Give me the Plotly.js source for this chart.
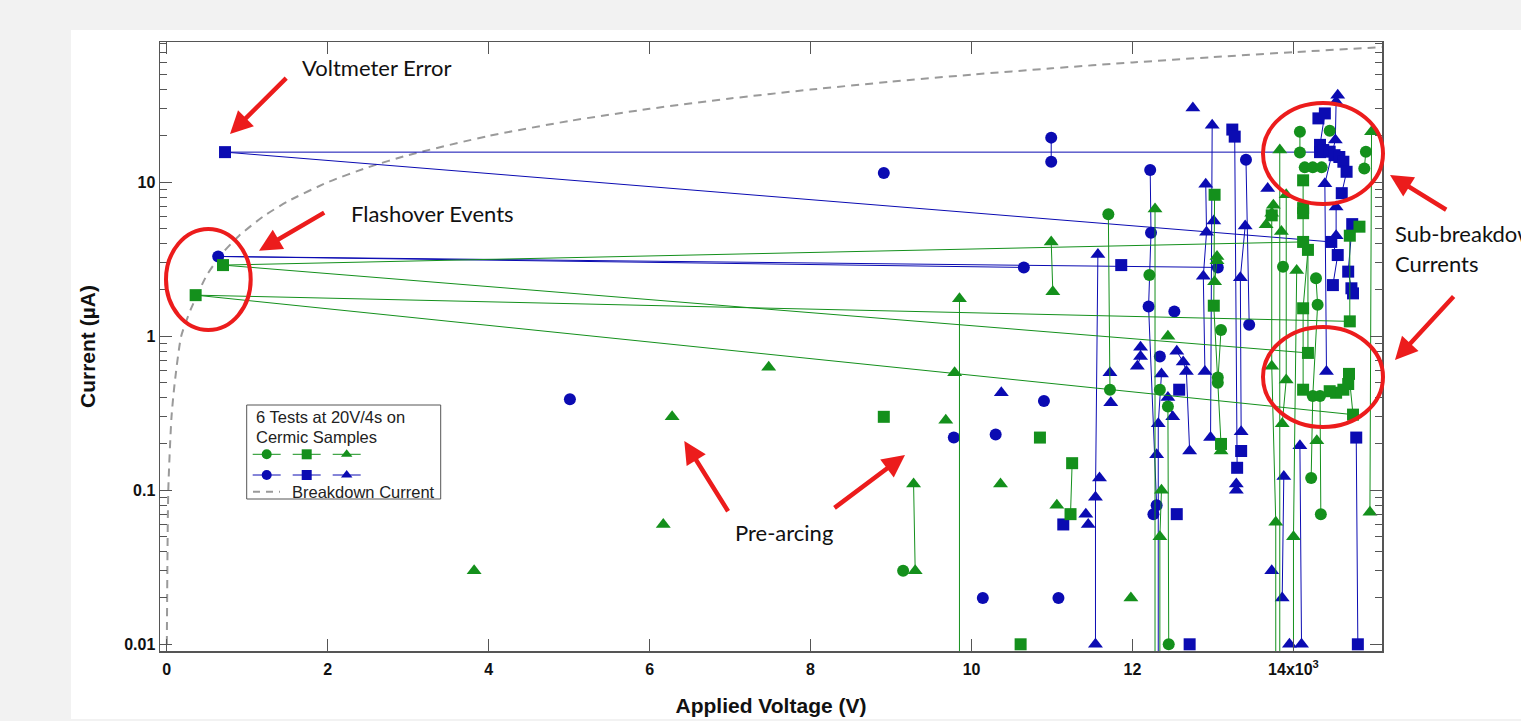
<!DOCTYPE html>
<html><head><meta charset="utf-8">
<script src="https://cdn.plot.ly/plotly-3.0.1.min.js"></script>
<style>html,body{margin:0;padding:0;background:#f2f2f2;}#chart{width:1521px;height:721px;}</style>
</head><body><div id="chart"></div>
<script>
// ---- data (Applied voltage in V, current in µA); each inner list is one connected run ----
const greenCircleV = [[9150],[11700,11720],[12210],[12340],[12440,12450],[13100,13060,13060],[13870],[14080,14080],[14450],[14140,14240,14350],[14900,14880],[14280,14300,14240,14220],[14330,14340]];
const greenCircleI = [[0.03],[6.2,0.45],[2.5],[0.45],[0.35,0.01],[1.1,0.54,0.50],[2.83],[21.3,15.6],[21.6],[12.5,12.5,12.5],[15.8,12.3],[2.38,1.6,0.41,0.12],[0.41,0.07]];

const greenSquareV = [[8910],[10610],[10850],[11250,11230],[13020,13010,13100],[13730],[14120,14120,14120,14120,700,14180,14180,14120,14120],[14820,14700,14700,360,14740,14690,14680,14620,14530,14450]];
const greenSquareI = [[0.3],[0.01],[0.22],[0.15,0.07],[8.3,1.58,0.2],[6.1],[10.3,6.8,6.3,4.1,2.9,0.78,3.64,1.52,0.45],[5.15,4.5,1.25,1.85,0.31,0.57,0.49,0.45,0.43,0.44]];

const greenTriangleV = [[3820],[6170],[6280],[7480],[9680],[9790],[10360],[11060],[11980],[12440],[9280,9300],[9850,9850],[10990,11010],[12280,12280],[12360,12340,12340],[13050,13050,13020],[13100],[13830,13830],[13910,13910,13860],[13750,13730,13730,13780,13780],[13660],[13850],[14040,14000,14000],[14290],[14970,14950]];
const greenTriangleI = [[0.03],[0.06],[0.3],[0.63],[0.285],[0.58],[0.11],[0.08],[0.02],[1.0],[0.11,0.03],[1.75,0.001],[4.1,1.95],[6.7,0.001],[0.1,0.05,0.001],[3.3,3.1,2.26],[0.18],[16.2,0.001],[8.3,0.52,0.27],[7.1,6.3,0.64,0.062,0.001],[5.3],[4.8],[2.67,0.05,0.001],[0.21],[21.3,0.072]];

const blueCircleV = [[5010],[8910],[9780],[10300],[10140],[11080],[10900],[12520],[12340],[10990,10990],[12220,12230,12200,12300,12260],[13410,13450],[10650,640,13060]];
const blueCircleI = [[0.39],[11.5],[0.22],[0.23],[0.02],[0.02],[0.38],[1.45],[0.74],[19.5,13.6],[12,4.7,1.56,0.08,0.07],[14,1.19],[2.8,3.3,2.8]];

const blueSquareV = [[11140],[11860],[12550],[12580],[12710],[13240,13270,13300],[13350],[14310,14390,14330,14330,725,14470,14550,14490],[14370,14450,14510,14570,14620,14660,14600],[14730,14680,14720,14740],[14780,14800]];
const blueSquareI = [[0.06],[2.9],[0.07],[0.45],[0.01],[22,19.8,0.14],[0.18],[26,28,17.5,15.7,15.7,4.1,3.37,2.15],[16.2,15.8,15,14.6,13.6,11.7,8.5],[5.35,2.63,2.05,1.9],[0.22,0.01]];

const blueTriangleV = [[10370],[11420],[11450],[11590],[12750],[13680],[12300],[11720],[11730],[11570,11540,11540],[12100,12100,12060],[12360,12320,12320],[12550,12630,12670,12710],[12440,12500],[12990,12970],[12910,12920,12880,12900],[13010],[13400,13340,13350],[13290,13290],[14550,14530,14520,14390,14410],[14530,14530],[14080,14100],[13880,13860],[13730],[13950]];
const blueTriangleI = [[0.43],[0.07],[0.06],[0.12],[30.4],[9.1],[0.17],[0.58],[0.37],[3.4,0.09,0.01],[0.85,0.74,0.64],[0.57,0.27,0.001],[0.80,0.68,0.59,0.18],[0.40,0.30],[23.5,0.22],[9.7,4.74,2.45,0.59],[5.6],[5.2,2.4,0.24],[0.11,0.10],[36.8,33.3,18.8,9.8,0.59],[6.9,4.5],[0.195,0.01],[0.123,0.02],[0.03],[0.01]];

const breakdownV = [2, 20, 60, 100, 180, 300, 500, 700, 900, 1200, 1500, 2000, 2500, 3000, 4000, 5000, 6000, 7000, 8000, 9000, 10000, 11000, 12000, 13000, 14000, 15100];
const breakdownI = [0.01, 0.1, 0.3, 0.5, 1, 1.5, 2.5, 3.5, 4.5, 6, 7.5, 10, 12.5, 15, 20, 25, 30, 35, 40, 45, 50, 55, 60, 65, 70, 75.5];

const xTickVals = [0, 2000, 4000, 6000, 8000, 10000, 12000, 14000];
const xTickText = ['0', '2', '4', '6', '8', '10', '12', '14x10<sup>3</sup>'];
const yTickVals = [0.01, 0.1, 1, 10];
const yTickText = ['0.01', '0.1', '1', '10'];

// ---- helpers ----
const flat = g => g.reduce((acc, run, i) => i ? acc.concat([null], run) : acc.concat(run), []);
const GREEN = '#14901c', BLUE = '#0b0bb2', RED = '#ec1c1c';
const L = 160, R = 1382, T = 42, B = 651;
const PX = p => (p - L) / (R - L);
const PY = p => (B - p) / (B - T);

function series(v, i, color, symbol, size) {
  return {x: flat(v), y: flat(i), type: 'scatter', mode: 'lines+markers', connectgaps: false,
    line: {color: color, width: 1}, marker: {color: color, symbol: symbol, size: size, line: {width: 0}},
    showlegend: false, hoverinfo: 'x+y'};
}

const traces = [
  {x: breakdownV, y: breakdownI, type: 'scatter', mode: 'lines', line: {color: '#9a9a9a', width: 2, dash: '8px,6px', shape: 'spline', smoothing: 0.6}, showlegend: false},
  series(blueCircleV, blueCircleI, BLUE, 'circle', 12),
  series(blueSquareV, blueSquareI, BLUE, 'square', 12),
  series(blueTriangleV, blueTriangleI, BLUE, 'triangle-up', 13),
  series(greenCircleV, greenCircleI, GREEN, 'circle', 12),
  series(greenSquareV, greenSquareI, GREEN, 'square', 12),
  series(greenTriangleV, greenTriangleI, GREEN, 'triangle-up', 13)
];

// custom legend (pixel-coordinate overlay axes)
const legX = [266.7, 306.7, 346.7];
const legSym = ['circle', 'square', 'triangle-up'];
[[454.3, GREEN], [475, BLUE]].forEach(([ry, col]) => {
  legX.forEach((cx, k) => {
    traces.push({x: [cx - 14, cx + 14], y: [ry, ry], xaxis: 'x2', yaxis: 'y2', mode: 'lines', line: {color: col, width: 1}, showlegend: false, hoverinfo: 'skip'});
    traces.push({x: [cx], y: [ry], xaxis: 'x2', yaxis: 'y2', mode: 'markers', marker: {color: col, symbol: legSym[k], size: 10}, showlegend: false, hoverinfo: 'skip'});
  });
});
traces.push({x: [253, 280], y: [491.7, 491.7], xaxis: 'x2', yaxis: 'y2', mode: 'lines', line: {color: '#9a9a9a', width: 2, dash: '7px,6px'}, showlegend: false, hoverinfo: 'skip'});

const minorY = [];
[0.01, 0.1, 1, 10].forEach(d => { for (let k = 2; k <= 9; k++) if (d * k < 82) minorY.push(+(d * k).toPrecision(3)); });

const axisFont = {family: 'Liberation Sans, Arial, sans-serif', size: 16, color: '#111', weight: 'bold'};
const titleFont = {family: 'Liberation Sans, Arial, sans-serif', size: 21, color: '#111', weight: 'bold'};
const noteFont = {family: 'Lato, Open Sans, sans-serif', size: 22, color: '#111'};
const legFont = {family: 'Liberation Sans, Arial, sans-serif', size: 16.5, color: '#222'};

function arrow(hx, hy, tx, ty) {
  return {xref: 'paper', yref: 'paper', x: PX(hx), y: PY(hy), ax: tx - hx, ay: ty - hy, axref: 'pixel', ayref: 'pixel',
    text: '', showarrow: true, arrowhead: 2, arrowsize: 1, arrowwidth: 4.5, arrowcolor: RED};
}
function note(txt, x, y) {
  return {xref: 'paper', yref: 'paper', x: PX(x), y: PY(y), xanchor: 'left', yanchor: 'middle', text: txt, showarrow: false, font: noteFont};
}
function legNote(txt, x, y) {
  return {xref: 'x2', yref: 'y2', x: x, y: y, xanchor: 'left', yanchor: 'middle', text: txt, showarrow: false, font: legFont};
}
function ellipse(x0, x1, y0, y1) {
  return {type: 'circle', xref: 'paper', yref: 'paper', x0: PX(x0), x1: PX(x1), y0: PY(y1), y1: PY(y0), line: {color: RED, width: 4}, layer: 'above'};
}

const layout = {
  width: 1521, height: 721,
  margin: {l: L, r: 1521 - R, t: T, b: 721 - B},
  paper_bgcolor: '#f2f2f2', plot_bgcolor: '#ffffff',
  showlegend: false,
  xaxis: {range: [-83, 15100], tickvals: xTickVals, ticktext: xTickText, ticks: 'inside', ticklen: 12, tickwidth: 1.2, tickcolor: '#555',
    showline: true, linecolor: '#555', linewidth: 1.5, mirror: 'ticks', showgrid: false, zeroline: false, tickfont: axisFont, ticklabelstandoff: 3,
    title: {text: 'Applied Voltage (V)', font: titleFont, standoff: 21}},
  yaxis: {type: 'log', range: [-2.0435, 1.911], tickvals: yTickVals, ticktext: yTickText, ticks: 'inside', ticklen: 12, tickwidth: 1.2, tickcolor: '#555',
    minor: {tickvals: minorY, ticks: 'inside', ticklen: 7, tickwidth: 1, tickcolor: '#555', showgrid: false},
    showline: true, linecolor: '#555', linewidth: 1.5, mirror: 'ticks', showgrid: false, zeroline: false, tickfont: axisFont,
    title: {text: 'Current (µA)', font: titleFont, standoff: 23}},
  xaxis2: {overlaying: 'x', anchor: 'y2', range: [L, R], visible: false, fixedrange: true},
  yaxis2: {overlaying: 'y', anchor: 'x2', range: [B, T], visible: false, fixedrange: true},
  shapes: [
    {type: 'rect', xref: 'paper', yref: 'paper', x0: PX(71), x1: PX(1530), y0: PY(719), y1: PY(30), fillcolor: '#ffffff', line: {width: 0}, layer: 'below'},
    {type: 'rect', xref: 'x2', yref: 'y2', x0: 246.7, x1: 440.7, y0: 405, y1: 499, fillcolor: '#ffffff', line: {color: '#555', width: 1}, layer: 'below'},
    ellipse(166, 250.7, 229, 330),
    ellipse(1263, 1383, 103, 204),
    ellipse(1263, 1383, 327, 427)
  ],
  annotations: [
    note('Voltmeter Error', 300, 68),
    note('Flashover Events', 349, 213),
    note('Pre-arcing', 733, 532),
    note('Sub-breakdown', 1393, 234),
    note('Currents', 1393, 263),
    arrow(230, 134, 287.7, 76.7),
    arrow(259, 250.7, 325.7, 211.7),
    arrow(684.3, 441, 729, 512.7),
    arrow(905, 455, 833, 509),
    arrow(1390, 175, 1447.7, 210.7),
    arrow(1395, 360, 1455, 295),
    legNote('6 Tests at 20V/4s on', 254, 417.3),
    legNote('Cermic Samples', 254, 436.7),
    legNote('Breakdown Current', 290, 491.7)
  ]
};

Plotly.newPlot('chart', traces, layout, {displayModeBar: false, staticPlot: true});
</script></body></html>
